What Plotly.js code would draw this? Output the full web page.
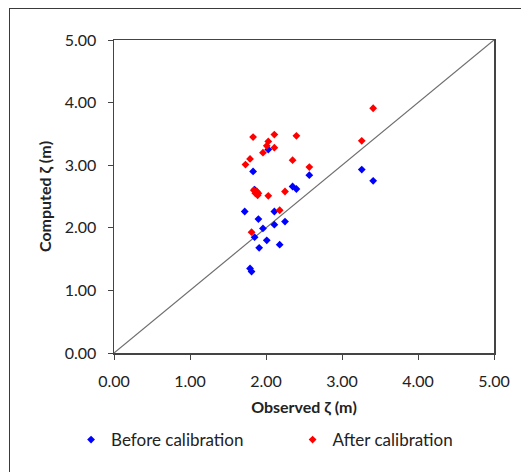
<!DOCTYPE html>
<html><head><meta charset="utf-8">
<script src="https://cdn.plot.ly/plotly-3.0.1.min.js"></script>
<style>
html,body{margin:0;padding:0;width:521px;height:472px;overflow:hidden;background:#fff;}
#frame{position:absolute;left:9px;top:8px;width:560px;height:520px;border:1px solid #3a3a3a;}
#chart{position:absolute;left:0;top:0;width:521px;height:472px;}
</style></head>
<body>
<div id="frame"></div>
<div id="chart"></div>
<script>
const beforeX = [2.03,1.83,2.57,1.85,2.35,2.40,1.72,2.11,1.90,2.25,2.11,1.96,1.85,2.01,1.91,2.18,1.79,1.81,3.26,3.41];
const beforeY = [3.25,2.90,2.84,2.61,2.66,2.62,2.26,2.26,2.14,2.10,2.05,1.99,1.85,1.80,1.68,1.73,1.35,1.30,2.93,2.75];
const afterX = [1.83,2.11,2.40,2.03,2.01,2.11,1.96,1.79,1.73,2.35,2.57,1.86,1.89,2.03,2.25,2.18,1.81,3.41,3.26,1.84,1.88,1.90];
const afterY = [3.45,3.49,3.47,3.38,3.31,3.28,3.20,3.10,3.01,3.08,2.97,2.55,2.52,2.51,2.58,2.28,1.93,3.91,3.39,2.60,2.58,2.55];
const lineX = [0,5];
const lineY = [0,5];
const ticks = [0,1,2,3,4,5];
const tickText = ticks.map(v=>v.toFixed(2));

const font = "Lato, 'Open Sans', sans-serif";
const data = [
  {x: lineX, y: lineY, mode:'lines', line:{color:'#6e6e6e', width:1.2}, showlegend:false, hoverinfo:'skip'},
  {x: beforeX, y: beforeY, mode:'markers', name:'Before calibration', legend:'legend',
   marker:{symbol:'diamond', size:6, color:'#0000ff'}},
  {x: afterX, y: afterY, mode:'markers', name:'After calibration', legend:'legend2',
   marker:{symbol:'diamond', size:6, color:'#ff0000'}}
];
const axisCommon = {range:[0,5], tickvals:ticks, ticktext:tickText, ticks:'outside', ticklen:5,
  tickcolor:'#444', showgrid:false, zeroline:false, showline:true, linecolor:'#444', linewidth:1.5,
  mirror:true, tickfont:{family:font, size:16, color:'#222'}, ticklabelstandoff:8, fixedrange:true};
const legendCommon = {orientation:'h', y:-0.278, yanchor:'middle', xanchor:'left',
  font:{family:font, size:17, color:'#222'}, bgcolor:'rgba(0,0,0,0)'};
const layout = {
  width:521, height:472, paper_bgcolor:'rgba(0,0,0,0)', plot_bgcolor:'#fff',
  margin:{l:114, r:27, t:40, b:119},
  font:{family:font, color:'#222'},
  xaxis: Object.assign({}, axisCommon, {title:{text:'<b>Observed ζ (m)</b>', font:{family:font,size:16,color:'#222'}, standoff:13}}),
  yaxis: Object.assign({}, axisCommon, {title:{text:'<b>Computed ζ (m)</b>', font:{family:font,size:16,color:'#222'}, standoff:9}}),
  showlegend:true,
  legend: Object.assign({}, legendCommon, {x:-0.113}),
  legend2: Object.assign({}, legendCommon, {x:0.47})
};
Plotly.newPlot('chart', data, layout, {displayModeBar:false, staticPlot:true});
</script>
</body></html>
